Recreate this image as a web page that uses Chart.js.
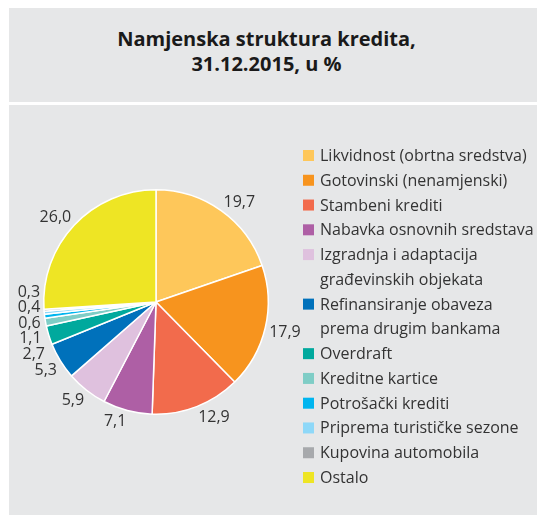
<!DOCTYPE html>
<html>
<head>
<meta charset="utf-8">
<script src="https://cdn.jsdelivr.net/npm/chart.js@4.4.0/dist/chart.umd.min.js"></script>
<style>
  html, body { margin: 0; padding: 0; background: #fff; }
  body { width: 537px; height: 517px; position: relative; overflow: hidden; font-family: "Open Sans", sans-serif; }
  .title-box { position: absolute; left: 9px; top: 8px; width: 528px; height: 94px; background: #e6e7e8; }
  .title-box h1 { margin: 0; position: absolute; left: 0; top: 18px; width: 515px; text-align: center;
    font-size: 20px; line-height: 25px; font-weight: 700; color: #1a1a1a; }
  .chart-box { position: absolute; left: 9px; top: 105px; width: 528px; height: 410px; background: #e6e7e8; }
</style>
</head>
<body>
<div class="title-box"><h1>Namjenska struktura kredita,<br>31.12.2015, u %</h1></div>
<div class="chart-box"><canvas id="pie" width="528" height="410"></canvas></div>
<script>
// loan purpose structure, share of total in %
const categories = [
  'Likvidnost (obrtna sredstva)',
  'Gotovinski (nenamjenski)',
  'Stambeni krediti',
  'Nabavka osnovnih sredstava',
  ['Izgradnja i adaptacija', 'građevinskih objekata'],
  ['Refinansiranje obaveza', 'prema drugim bankama'],
  'Overdraft',
  'Kreditne kartice',
  'Potrošački krediti',
  'Priprema turističke sezone',
  'Kupovina automobila',
  'Ostalo'
];
const shares = [19.7, 17.9, 12.9, 7.1, 5.9, 5.3, 2.7, 1.1, 0.6, 0.4, 0.3, 26.0];
const colors = ['#fec75a', '#f7941e', '#f26b4c', '#ae5fa5', '#dfc1de', '#0071bb',
                '#00a99d', '#7fcdc6', '#00b5ef', '#8ed8f8', '#a7a9ac', '#eee524'];

const TEXT_COLOR = '#333333';
const FONT = '16px "Open Sans"';
const LEGEND_X = 294, LEGEND_TOP = 56, LINE_H = 24.77;
const LABEL_GAP = 15.5;

const fmt = v => v.toFixed(1).replace('.', ',');

// value labels outside the slices, nearest corner of the text box at the rim
const pieLabels = {
  id: 'pieLabels',
  afterDatasetsDraw(chart) {
    const ctx = chart.ctx;
    const arcs = chart.getDatasetMeta(0).data;
    ctx.save();
    ctx.font = FONT;
    const items = arcs.map((arc, i) => {
      const p = arc.getProps(['x', 'y', 'startAngle', 'endAngle', 'outerRadius'], true);
      const mid = (p.startAngle + p.endAngle) / 2;
      const r = p.outerRadius + 4;
      const px = p.x + Math.cos(mid) * r;
      const py = p.y + Math.sin(mid) * r;
      const text = fmt(shares[i]);
      const w = ctx.measureText(text).width;
      const sx = Math.cos(mid) >= 0 ? 1 : -1;
      const sy = Math.max(-1, Math.min(1, Math.sin(mid) * 2));
      return { text, left: sx < 0, cx: px + sx * w / 2, cy: py + sy * 6 };
    });
    // push crowded labels apart vertically
    [true, false].forEach(side => {
      const group = items.filter(it => it.left === side).sort((a, b) => a.cy - b.cy);
      for (let k = 0; k < 300; k++) {
        for (let i = 1; i < group.length; i++) {
          const d = group[i].cy - group[i - 1].cy;
          if (d < LABEL_GAP) {
            const s = (LABEL_GAP - d) / 2;
            group[i - 1].cy -= s;
            group[i].cy += s;
          }
        }
      }
    });
    ctx.fillStyle = TEXT_COLOR;
    ctx.textAlign = 'center';
    ctx.textBaseline = 'alphabetic';
    items.forEach(it => ctx.fillText(it.text, it.cx, it.cy + 5.7));
    ctx.restore();
  }
};

// legend on the right, with wrapped entries
const sideLegend = {
  id: 'sideLegend',
  afterDraw(chart) {
    const ctx = chart.ctx;
    ctx.save();
    ctx.font = FONT;
    ctx.textBaseline = 'alphabetic';
    ctx.textAlign = 'left';
    let line = 0;
    categories.forEach((cat, i) => {
      const lines = Array.isArray(cat) ? cat : [cat];
      const base = LEGEND_TOP + line * LINE_H;
      ctx.fillStyle = colors[i];
      ctx.fillRect(LEGEND_X, base - 11, 11, 11);
      ctx.fillStyle = TEXT_COLOR;
      lines.forEach((t, j) => ctx.fillText(t, LEGEND_X + 17, base + j * LINE_H));
      line += lines.length;
    });
    ctx.restore();
  }
};

new Chart(document.getElementById('pie'), {
  type: 'pie',
  data: {
    labels: categories.map(c => Array.isArray(c) ? c.join(' ') : c),
    datasets: [{
      data: shares,
      backgroundColor: colors,
      borderColor: '#ffffff',
      borderWidth: 1.5
    }]
  },
  options: {
    responsive: false,
    animation: false,
    events: [],
    layout: { padding: { left: 34, top: 84, right: 268, bottom: 100 } },
    plugins: { legend: { display: false }, tooltip: { enabled: false } }
  },
  plugins: [pieLabels, sideLegend]
});
</script>
</body>
</html>
